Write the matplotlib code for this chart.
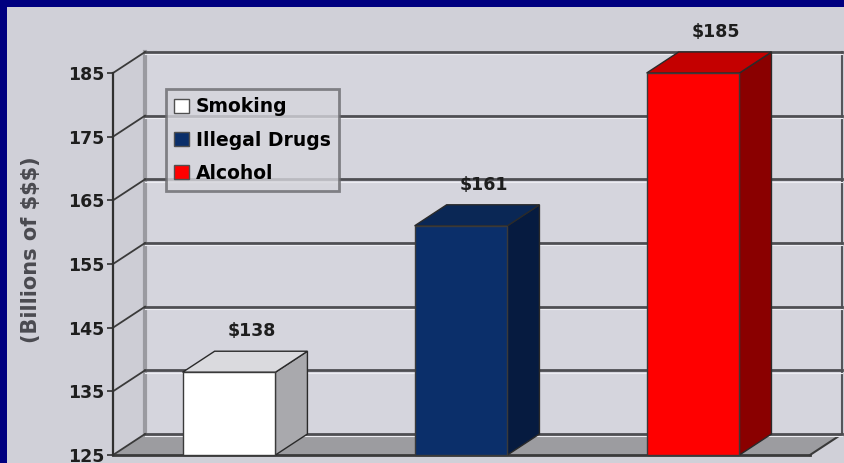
import matplotlib
matplotlib.use("Agg")
import matplotlib.pyplot as plt
from matplotlib.patches import Polygon, Rectangle, Patch

# spending by category, billions of dollars
categories = ["Smoking", "Illegal Drugs", "Alcohol"]
costs = [138, 161, 185]
value_labels = ["$138", "$161", "$185"]
yticks = [125, 135, 145, 155, 165, 175, 185]

front_colors = ["#FFFFFF", "#0B2F6A", "#FF0000"]
side_colors = ["#A9A9AD", "#061B40", "#8A0000"]
top_colors = ["#DADADE", "#0A2755", "#C40000"]

W, H = 844, 463
fig = plt.figure(figsize=(W / 100, H / 100), dpi=100)
fig.patch.set_facecolor("#000080")
# light panel inside the navy frame
fig.patches.append(Rectangle((7 / W, 0), 1, 1 - 7 / H, transform=fig.transFigure,
                             facecolor="#D0D0D8", edgecolor="none", zorder=-5))

ax = fig.add_axes([113 / W, (H - 455) / H, (842 - 113) / W, (455 - 73) / H])
ax.set_zorder(1)
ax.set_facecolor("none")
x0, x1 = -0.5, 2.642
y0, y1 = 125, 185
ax.set_xlim(x0, x1)
ax.set_ylim(y0, y1)

dx, dy = 0.138, 3.3   # depth offset of the 3D box
half = 0.2            # half bar width

# side wall, back wall, floor
ax.add_patch(Polygon([(x0, y0), (x0, y1), (x0 + dx, y1 + dy), (x0 + dx, y0 + dy)],
                     closed=True, facecolor="#CDCDD5", edgecolor="none", clip_on=False, zorder=1))
ax.add_patch(Polygon([(x0 + dx, y0 + dy), (x0 + dx, y1 + dy), (x1, y1 + dy), (x1, y0 + dy)],
                     closed=True, facecolor="#D5D5DD", edgecolor="none", clip_on=False, zorder=1))
ax.add_patch(Polygon([(x0, y0), (x0 + dx, y0 + dy), (x1, y0 + dy), (x1 - dx, y0)],
                     closed=True, facecolor="#9C9CA0", edgecolor="none", clip_on=False, zorder=1))
ax.plot([x0 + dx, x0 + dx], [y0 + dy, y1 + dy], color="#9A9AA0", lw=3, clip_on=False, zorder=2)
ax.plot([x1, x1], [y0 + dy, y1 + dy], color="#55555A", lw=1.5, clip_on=False, zorder=2)
ax.plot([x1, x1 - dx], [y0 + dy, y0], color="#3A3A3A", lw=1.5, clip_on=False, zorder=2)
ax.plot([x0, x1 - dx], [y0, y0], color="#3A3A3A", lw=2, clip_on=False, zorder=2)

# gridlines on the back wall and the side wall
for t in yticks:
    ax.plot([x0 + dx, x1], [t + dy, t + dy], color="#4E4E52", lw=2, clip_on=False, zorder=2)
    ax.plot([x0 + dx, x1], [t + dy - 0.35, t + dy - 0.35], color="#EDEDF2", lw=0.8,
            clip_on=False, zorder=2)
    ax.plot([x0, x0 + dx], [t, t + dy], color="#3A3A3A", lw=1.3, clip_on=False, zorder=2)

# 3D bars
for i, v in enumerate(costs):
    l, r = i - half, i + half
    ax.add_patch(Polygon([(r, y0), (r, v), (r + dx, v + dy), (r + dx, y0 + dy)], closed=True,
                         facecolor=side_colors[i], edgecolor="#2A2A2A", lw=1, clip_on=False, zorder=3))
    ax.add_patch(Polygon([(l, v), (r, v), (r + dx, v + dy), (l + dx, v + dy)], closed=True,
                         facecolor=top_colors[i], edgecolor="#2A2A2A", lw=1, clip_on=False, zorder=3))
    ax.add_patch(Rectangle((l, y0), 2 * half, v - y0, facecolor=front_colors[i],
                           edgecolor="#3A3A3A", lw=1, clip_on=False, zorder=4))
    ax.text(i + 0.1, v + dy + 3.1, value_labels[i], ha="center", va="center",
            fontsize=12.5, fontweight="bold", color="#1E1E1E", zorder=5)

# front y axis
for s in ["top", "right", "bottom"]:
    ax.spines[s].set_visible(False)
ax.spines["left"].set_color("#303030")
ax.spines["left"].set_linewidth(1.6)
ax.spines["left"].set_zorder(5)
ax.set_xticks([])
ax.set_yticks(yticks)
ax.tick_params(axis="y", length=4, width=1.2, color="#303030", pad=2,
               labelsize=12.5, labelcolor="#1E1E1E")
for lab in ax.get_yticklabels():
    lab.set_fontweight("bold")

fig.text(31 / W, 1 - 250 / H, "(Billions of $$$)", rotation=90, ha="center", va="center",
         fontsize=15, fontweight="bold", color="#4A4A50")

handles = [Patch(facecolor=c, edgecolor="#505050") for c in front_colors]
leg = fig.legend(handles, categories, loc="upper left",
                 bbox_to_anchor=(166 / W, 1 - 89 / H), bbox_transform=fig.transFigure,
                 prop={"weight": "bold", "size": 13.5}, frameon=True, fancybox=False,
                 handlelength=0.75, handleheight=0.75, handletextpad=0.4,
                 labelspacing=0.75, borderpad=0.45, borderaxespad=0)
leg.get_frame().set_facecolor("#D6D6DC")
leg.get_frame().set_edgecolor("#6A6A6E")
leg.get_frame().set_linewidth(2)
leg.set_zorder(6)

fig.savefig("out.png", dpi=100, facecolor=fig.get_facecolor())
